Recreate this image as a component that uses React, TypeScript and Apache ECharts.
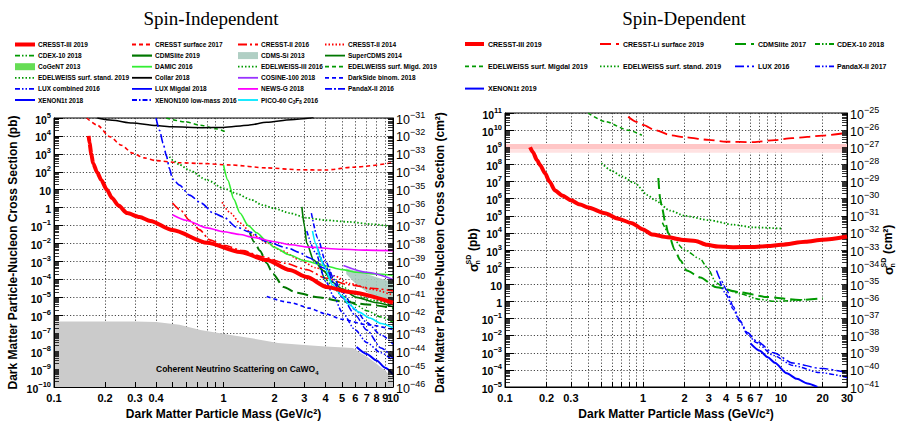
import React, { useEffect, useRef } from "react";
import * as echarts from "echarts";

const FONT = "'Liberation Sans', Arial, Helvetica, sans-serif";
const SERIF = "'Liberation Serif', 'Times New Roman', serif";

// ---------- axis ranges & tick labels ----------
const siMassRange = [0.1, 10];
const sdMassRange = [0.1, 30];
const siPbRange = [1e-10, 1e5];
const sdPbRange = [1e-5, 1e11];
const siMassLabels = [0.1, 0.2, 0.3, 0.4, 1, 2, 3, 4, 5, 6, 7, 8, 9, 10];
const sdMassLabels = [0.1, 0.2, 0.3, 1, 2, 3, 4, 5, 6, 7, 10, 20, 30];
const siPbExp = [-10, -9, -8, -7, -6, -5, -4, -3, -2, -1, 0, 1, 2, 3, 4, 5];
const siCm2Exp = [-46, -45, -44, -43, -42, -41, -40, -39, -38, -37, -36, -35, -34, -33, -32, -31];
const sdPbExp = [-5, -4, -3, -2, -1, 0, 1, 2, 3, 4, 5, 6, 7, 8, 9, 10, 11];
const sdCm2Exp = [-41, -40, -39, -38, -37, -36, -35, -34, -33, -32, -31, -30, -29, -28, -27, -26, -25];
const MULT = [1, 2, 3, 4, 5, 6, 7, 8, 9];

// ---------- Spin-independent limits: [mass GeV/c^2, cross section pb] ----------
const siCresst3 = [[0.16, 1e4], [0.162, 4e3], [0.166, 1e3], [0.17, 300], [0.18, 90], [0.19, 35], [0.205, 10], [0.22, 3.5], [0.24, 1.3], [0.27, 0.5], [0.32, 0.3], [0.37, 0.18], [0.5, 0.056], [0.8, 0.011], [1.25, 0.0034], [1.8, 0.0012], [2.46, 3.3e-4], [3.1, 1.35e-4], [4.06, 3.8e-5], [5.5, 2e-5], [10, 5e-6]];
const siCresstSurf = [[0.156, 1e5], [0.18, 4e4], [0.214, 9e3], [0.25, 3e3], [0.29, 1.1e3], [0.34, 600], [0.4, 420], [0.55, 320], [0.75, 290], [1.1, 240], [1.8, 165], [2.8, 130], [4, 125], [5.8, 180], [10, 320]];
const siCresst2_16 = [[0.5, 1.8], [0.56, 0.7], [0.63, 0.2], [0.72, 0.06], [0.83, 0.016], [1.0, 0.008], [1.3, 0.004], [1.71, 0.0018], [2.3, 8e-4], [3.1, 3.5e-4], [4, 1.2e-4], [5.5, 5e-5], [7.5, 3.2e-5], [10, 2.3e-5]];
const siCresst2_14 = [[0.98, 2], [1.1, 0.5], [1.25, 0.14], [1.5, 0.03], [1.8, 0.011], [2.2, 0.004], [2.8, 0.0013], [3.5, 4.5e-4], [4.5, 1.6e-4], [5.5, 6e-5], [7.5, 2.8e-5], [10, 1.3e-5]];
const siCdex = [[3.6, 1e-3], [4, 1e-4], [4.5, 3e-5], [5, 1.2e-5], [6, 4e-6], [7, 1.8e-6], [8.5, 8e-7], [10, 4e-7]];
const siCdmslite = [[1.43, 0.04], [1.52, 0.012], [1.64, 0.004], [1.8, 8e-4], [1.96, 2e-4], [2.26, 3.8e-5], [2.7, 1.8e-5], [3.6, 1e-5], [5, 6e-6], [7, 4e-6], [10, 2.5e-6]];
const siSuperCdms = [[2.9, 1.1], [3.0, 0.1], [3.1, 0.01], [3.4, 0.0012], [3.9, 3e-4], [4.4, 7e-5], [5, 3e-5], [6.1, 1e-5], [8, 5e-6], [10, 3e-6]];
const siDamic = [[1.0, 240], [1.06, 35], [1.15, 3], [1.25, 0.5], [1.4, 0.1], [1.57, 0.04], [1.8, 0.013], [2.0, 0.006], [2.46, 0.0023], [3, 0.0011], [3.9, 6e-4], [5, 3.5e-4], [6.1, 2.5e-4], [8, 2e-4], [10, 1.7e-4]];
const siEdelweiss3 = [[3.6, 3e-3], [4, 5e-4], [4.5, 1e-4], [5, 4e-5], [6, 1.5e-5], [7.5, 7e-6], [10, 4e-6]];
const siEdwMigdal = [[0.46, 1e5], [0.6, 6e4], [0.73, 4e4], [0.9, 2.5e4], [1.05, 1.6e4]];
const siEdwStand = [[0.48, 700], [0.5, 460], [0.55, 250], [0.63, 120], [0.8, 35], [1.0, 12], [1.2, 6], [1.45, 2.8], [1.7, 1.4], [2.0, 0.9], [2.46, 0.5], [3.1, 0.27], [4, 0.2], [5.5, 0.16], [7.5, 0.12], [10, 0.085]];
const siCollar = [[0.18, 1e5], [0.22, 7.5e4], [0.29, 5.2e4], [0.4, 3.8e4], [0.5, 3.2e4], [0.75, 2.9e4], [1, 3e4], [1.4, 4e4], [1.8, 5.8e4], [2.5, 8e4], [3.4, 1.05e5]];
const siCosine = [[5.1, 6e-4], [7, 2.5e-4], [10, 1e-4]];
const siDarkSide = [[1.8, 1.1e-5], [2.5, 5e-6], [3.2, 2.5e-6], [4, 1.2e-6], [5, 6e-7], [7, 3e-7], [10, 1.6e-7]];
const siLuxComb = [[3.1, 0.05], [3.5, 3e-3], [4, 8e-5], [4.5, 1e-5], [5, 1.5e-6], [6, 1.5e-7], [7, 3e-8], [8.5, 8e-9], [10, 3e-9]];
const siLuxMigdal = [[0.4, 1e5], [0.42, 2e4], [0.44, 4e3], [0.46, 800], [0.48, 150], [0.5, 40], [0.55, 18], [0.63, 5], [0.74, 1.8], [0.87, 0.5], [1.0, 0.3], [1.2, 0.08], [1.43, 0.044], [1.8, 0.0126], [2.4, 0.0056], [2.8, 0.0032], [3.2, 0.0016], [3.9, 4.3e-4], [4.5, 1.5e-4]];
const siNewsG = [[0.5, 0.4], [0.6, 0.2], [0.8, 0.075], [1.0, 0.045], [1.25, 0.032], [1.5, 0.022], [2, 0.0126], [2.5, 0.0085], [3.2, 0.0063], [5, 0.0048], [7, 0.0043], [10, 0.004]];
const siPandax = [[3.6, 5e-3], [4, 5e-4], [4.5, 6e-5], [5, 1e-5], [6, 1e-6], [7, 1.5e-7], [8.5, 1.5e-8], [10, 4e-9]];
const siXenon1t = [[6.1, 1.7e-8], [7, 7e-9], [8, 3e-9], [9, 1.2e-9], [10, 5e-10]];
const siXenon100 = [[3.3, 0.5], [3.6, 0.02], [4, 1e-3], [4.5, 1e-4], [5, 2e-5], [6, 2e-6], [7, 4e-7], [8.5, 8e-8], [10, 2.5e-8]];
const siPico = [[3.35, 0.05], [3.5, 0.01], [3.7, 0.002], [3.9, 6e-4], [4.4, 5e-5], [5, 1.2e-5], [5.5, 4e-6], [6.3, 1.5e-6], [7.3, 7e-7], [8.5, 3.5e-7], [10, 2e-7]];
const siCdmsSiRegion = [[5.3, 4e-4], [6.5, 2.5e-4], [8, 1.3e-4], [10, 7e-5], [10, 4e-6], [8.5, 8e-6], [7, 2e-5], [6, 6e-5], [5.3, 2e-4]];
const siNeutrinoTop = [[0.1, 4.5e-7], [0.2, 4.5e-7], [0.3, 4.5e-7], [0.4, 4.2e-7], [0.55, 3e-7], [0.73, 1.5e-7], [1.1, 8e-8], [1.5, 5e-8], [2.1, 2.8e-8], [3, 2.2e-8], [4, 1.8e-8], [5.8, 1.5e-8], [6.4, 8e-9], [7, 5e-9], [8, 2e-9], [9, 8e-10], [10, 3e-10]];

// ---------- Spin-dependent limits: [mass GeV/c^2, cross section pb] ----------
const sdCresst3 = [[0.152, 1e9], [0.16, 5e8], [0.17, 1.8e8], [0.18, 9e7], [0.195, 3e7], [0.21, 1e7], [0.23, 3e6], [0.26, 1.5e6], [0.3, 8e5], [0.35, 4.5e5], [0.4, 3e5], [0.53, 1.4e5], [0.65, 7e4], [0.83, 3.7e4], [1.0, 1.6e4], [1.16, 8e3], [1.5, 5.5e3], [2, 3.8e3], [2.4, 3.4e3], [2.9, 2e3], [3.5, 1.6e3], [4.5, 1.45e3], [6.3, 1.5e3], [8, 1.7e3], [10, 2e3], [15, 3e3], [20, 4e3], [30, 6.2e3]];
const sdCresstLi = [[0.78, 6e10], [0.9, 3e10], [1.0, 2e10], [1.22, 1e10], [1.6, 5e9], [2, 3.8e9], [3, 2.7e9], [4, 2.1e9], [6.3, 2e9], [9, 2.6e9], [12, 3.4e9], [20, 4.8e9], [30, 7e9]];
const sdCdmslite = [[1.29, 1.6e7], [1.33, 1e6], [1.37, 3e5], [1.45, 4e4], [1.52, 1e4], [1.7, 1e3], [1.86, 250], [2.07, 63], [2.6, 25], [3.4, 6.6], [5, 3.4], [7.9, 1.8], [13.6, 1.2], [20, 1.5]];
const sdCdex = [[1.38, 4e4], [1.6, 6e3], [2, 1e3], [2.6, 300], [2.9, 100], [3.4, 12], [4, 5], [5, 2.8], [7, 1.3], [9, 1], [12, 1.1], [15, 1.3]];
const sdEdwMigdal = [[0.4, 1e11], [0.53, 3.2e10], [0.78, 1e10], [0.98, 5e9]];
const sdEdwStand = [[0.5, 1.2e8], [0.6, 4e7], [0.7, 2e7], [0.87, 8e6], [1.08, 1.6e6], [1.22, 8e5], [1.57, 2e5], [2, 1e5], [3, 5.5e4], [4.5, 3e4], [6.3, 2.1e4], [10, 1.8e4]];
const sdLux = [[3.4, 63], [3.7, 15], [4.04, 4.5], [4.5, 0.5], [5, 0.08], [5.7, 0.015], [6.6, 0.005], [8.8, 1e-3], [12.2, 2.5e-4], [19, 1.25e-4], [30, 7e-5]];
const sdPandax = [[3.6, 15], [4.0, 2.5], [4.5, 0.35], [5, 0.07], [5.7, 0.012], [6.6, 0.004], [8.8, 7e-4], [12.2, 1.8e-4], [19, 7e-5], [30, 3.6e-5]];
const sdXenon1t = [[6, 3.5e-3], [7, 1.3e-3], [8, 5.5e-4], [9, 2.6e-4], [11, 6.3e-5], [13, 3e-5], [15.5, 1.6e-5], [18.3, 1e-5]];
const sdPinkBand = [8e8, 1.55e9];
const sdPinkHatch = [4.8e8, 8e8];

// ---------- styles ----------
const RED = "#ff0000", GREEN = "#009900", DKGREEN = "#007700", LIME = "#33ee33", BLUE = "#0000ff";
const DASH = [4, 3], DOT = [1.5, 2], LONG = [11, 5], DASHDOT = [5, 2, 1.5, 2], DDD = [5, 2, 1.5, 2, 1.5, 2], LDD = [9, 3, 2, 3];
const S: any = {
  cresst3: { c: RED, w: 4, d: "solid" },
  cresstSurf: { c: RED, w: 1.6, d: DASH },
  cresst216: { c: RED, w: 1.6, d: LDD },
  cresst214: { c: RED, w: 1.6, d: DOT },
  cdex: { c: GREEN, w: 1.5, d: DDD },
  cdmslite: { c: DKGREEN, w: 2, d: LONG },
  supercdms: { c: DKGREEN, w: 1.6, d: "solid" },
  damic: { c: LIME, w: 1.6, d: "solid" },
  ew3: { c: GREEN, w: 1.5, d: DOT },
  ewMig: { c: GREEN, w: 1.5, d: DASH },
  ewStd: { c: GREEN, w: 1.8, d: DOT },
  collar: { c: "#000000", w: 1.5, d: "solid" },
  cosine: { c: "#9933ff", w: 1.6, d: "solid" },
  darkside: { c: BLUE, w: 1.6, d: DASH },
  luxComb: { c: BLUE, w: 1.5, d: DDD },
  luxMig: { c: BLUE, w: 1.6, d: LDD },
  newsg: { c: "#ff00ff", w: 1.6, d: "solid" },
  pandax: { c: BLUE, w: 1.5, d: [7, 2, 2, 2] },
  xenon1t: { c: BLUE, w: 2, d: "solid" },
  xenon100: { c: BLUE, w: 1.5, d: DASHDOT },
  pico: { c: "#00e8ff", w: 1.6, d: "solid" },
  sdLi: { c: RED, w: 1.8, d: LONG },
  sdCdmslite: { c: GREEN, w: 2, d: LONG },
  sdLux: { c: BLUE, w: 1.5, d: LDD },
  sdPandax: { c: BLUE, w: 1.5, d: DDD },
};

const siSeries: any[] = [
  ["CRESST surface 2017", siCresstSurf, S.cresstSurf],
  ["CRESST-II 2016", siCresst2_16, S.cresst216],
  ["CRESST-II 2014", siCresst2_14, S.cresst214],
  ["CDEX-10 2018", siCdex, S.cdex],
  ["CDMSlite 2019", siCdmslite, S.cdmslite],
  ["SuperCDMS 2014", siSuperCdms, S.supercdms],
  ["DAMIC 2016", siDamic, S.damic],
  ["EDELWEISS-III 2016", siEdelweiss3, S.ew3],
  ["EDELWEISS surf. Migd. 2019", siEdwMigdal, S.ewMig],
  ["EDELWEISS surf. stand. 2019", siEdwStand, S.ewStd],
  ["Collar 2018", siCollar, S.collar],
  ["COSINE-100 2018", siCosine, S.cosine],
  ["DarkSide binom. 2018", siDarkSide, S.darkside],
  ["LUX combined 2016", siLuxComb, S.luxComb],
  ["LUX Migdal 2018", siLuxMigdal, S.luxMig],
  ["NEWS-G 2018", siNewsG, S.newsg],
  ["PandaX-II 2016", siPandax, S.pandax],
  ["XENON1t 2018", siXenon1t, S.xenon1t],
  ["XENON100 low-mass 2016", siXenon100, S.xenon100],
  ["PICO-60 C3F8 2016", siPico, S.pico],
  ["CRESST-III 2019", siCresst3, S.cresst3],
];
const sdSeries: any[] = [
  ["CRESST-Li surface 2019", sdCresstLi, S.sdLi],
  ["CDMSlite 2017", sdCdmslite, S.sdCdmslite],
  ["CDEX-10 2018", sdCdex, S.cdex],
  ["EDELWEISS surf. Migdal 2019", sdEdwMigdal, S.ewMig],
  ["EDELWEISS surf. stand. 2019", sdEdwStand, S.ewStd],
  ["LUX 2016", sdLux, S.sdLux],
  ["PandaX-II 2017", sdPandax, S.sdPandax],
  ["XENON1t 2019", sdXenon1t, S.xenon1t],
  ["CRESST-III 2019", sdCresst3, S.cresst3],
];

const siLegend: any[] = [
  ["CRESST-III 2019", S.cresst3], ["CRESST surface 2017", S.cresstSurf], ["CRESST-II 2016", S.cresst216], ["CRESST-II 2014", S.cresst214],
  ["CDEX-10 2018", S.cdex], ["CDMSlite 2019", { c: DKGREEN, w: 2.2, d: "solid" }], ["CDMS-Si 2013", { box: "#b0cfc4" }], ["SuperCDMS 2014", S.supercdms],
  ["CoGeNT 2013", { box: "#66dd55" }], ["DAMIC 2016", S.damic], ["EDELWEISS-III 2016", S.ew3], ["EDELWEISS surf. Migd. 2019", S.ewMig],
  ["EDELWEISS surf. stand. 2019", S.ewStd], ["Collar 2018", S.collar], ["COSINE-100 2018", S.cosine], ["DarkSide binom. 2018", S.darkside],
  ["LUX combined 2016", S.luxComb], ["LUX Migdal 2018", { c: BLUE, w: 1.6, d: "solid" }], ["NEWS-G 2018", S.newsg], ["PandaX-II 2016", S.pandax],
  ["XENON1t 2018", S.xenon1t], ["XENON100 low-mass 2016", S.xenon100], ["PICO-60 C{sub|3}F{sub|8} 2016", S.pico],
];
const sdLegend: any[] = [
  ["CRESST-III 2019", S.cresst3], ["CRESST-Li surface 2019", S.sdLi], ["CDMSlite 2017", S.sdCdmslite], ["CDEX-10 2018", S.cdex],
  ["EDELWEISS surf. Migdal 2019", S.ewMig], ["EDELWEISS surf. stand. 2019", S.ewStd], ["LUX 2016", S.sdLux], ["PandaX-II 2017", S.sdPandax],
  ["XENON1t 2019", S.xenon1t],
];

// ---------- helpers ----------
const logPos = (m: number) => {
  const e = Math.floor(Math.log10(m) + 1e-9);
  const j = Math.round(m / Math.pow(10, e));
  return e + Math.log10(j);
};
const massTickPos = (maxMass: number) => {
  const out: number[] = [];
  for (let e = -1; e <= 1; e++) for (const j of MULT) { if (j * Math.pow(10, e) <= maxMass * 1.0001) out.push(e + Math.log10(j)); }
  return out;
};
const combPos = (exps: number[]) => {
  const out: number[] = [];
  for (let i = 0; i < exps.length; i++) {
    if (i === exps.length - 1) { out.push(exps[i]); break; }
    for (const j of MULT) out.push(exps[i] + Math.log10(j));
  }
  return out;
};
const fmtMass = (v: number) => {
  const e = Math.floor(v + 1e-9);
  const j = Math.round(Math.pow(10, v - e));
  return String(Number((j * Math.pow(10, e)).toPrecision(3)));
};
const expStr = (e: number) => (e < 0 ? "\u2212" + -e : String(e));
const fmtPbLeft = (v: number) => {
  const e = Math.round(v);
  if (e === 0) return "{b|1}";
  if (e === 1) return "{b|10}";
  return "{b|10}{sup|" + expStr(e) + "}";
};
const fmtPow = (v: number) => "{b|10}{sup|" + expStr(Math.round(v)) + "}";

const richLeft = {
  b: { fontSize: 10.5, fontWeight: "bold", fontFamily: FONT, color: "#000", lineHeight: 14, verticalAlign: "bottom" },
  sup: { fontSize: 7.5, fontWeight: "bold", fontFamily: FONT, color: "#000", lineHeight: 9, verticalAlign: "top" },
};
const richRight = {
  b: { fontSize: 12.5, fontFamily: FONT, color: "#000", lineHeight: 16, verticalAlign: "bottom" },
  sup: { fontSize: 9, fontFamily: FONT, color: "#000", lineHeight: 10, verticalAlign: "top" },
};
const nameStyle = { fontSize: 12, fontWeight: "bold", fontFamily: FONT, color: "#000" };
const gridLine = { color: "#333", width: 0.9, type: [1.2, 2] };
const massLabelStyle = { color: "#000", fontSize: 11, fontWeight: "bold", fontFamily: FONT, margin: 5, hideOverlap: false, showMinLabel: true, showMaxLabel: true };

function lineSeries(list: any[], xi: number, yi: number) {
  return list.map(([name, data, st]: any) => ({
    name, type: "line", xAxisIndex: xi, yAxisIndex: yi, data,
    showSymbol: false, symbol: "none", smooth: 0.25, smoothMonotone: "x", clip: true,
    z: st === S.cresst3 ? 6 : 3,
    lineStyle: { color: st.c, width: st.w, type: st.d },
  }));
}

function mainX(grid: number, range: number[], ticks: number[], labels: number[]) {
  return {
    type: "value", gridIndex: grid, position: "bottom", min: range[0], max: range[1], z: 5,
    axisLine: { show: true, onZero: false, lineStyle: { color: "#000", width: 1 } },
    axisTick: { show: true, inside: true, length: 5, customValues: ticks, lineStyle: { color: "#000" } },
    axisLabel: { show: true, customValues: labels, formatter: fmtMass, ...massLabelStyle },
    splitLine: { show: false }, minorTick: { show: false },
    name: "Dark Matter Particle Mass (GeV/c²)", nameLocation: "middle", nameGap: 20, nameTextStyle: nameStyle,
  };
}
// extra label-only axis for the last mass label, so that it is not hidden by overlap with its neighbour
function lastLabelX(grid: number, range: number[], labels: number[]) {
  return {
    type: "value", gridIndex: grid, position: "bottom", min: range[0], max: range[1], z: 5,
    axisLine: { show: false, onZero: false }, axisTick: { show: false },
    axisLabel: { show: true, customValues: labels, formatter: fmtMass, ...massLabelStyle },
    splitLine: { show: false },
  };
}
function splitX(grid: number, range: number[], ticks: number[]) {
  return {
    type: "value", gridIndex: grid, position: "bottom", min: range[0], max: range[1], z: 0,
    axisLine: { show: false, onZero: false }, axisTick: { show: false, customValues: ticks }, axisLabel: { show: false },
    splitLine: { show: true, customValues: ticks, lineStyle: gridLine },
  };
}
function labelY(grid: number, pos: string, exps: number[], fmt: any, rich: any, name: any, nameGap: number) {
  const ticks = combPos(exps);
  return {
    type: "value", gridIndex: grid, position: pos, min: exps[0], max: exps[exps.length - 1], z: 5,
    axisLine: { show: true, onZero: false, lineStyle: { color: "#000", width: 1 } },
    axisTick: { show: true, inside: true, length: 5, customValues: ticks, lineStyle: { color: "#000", width: 0.8 } },
    axisLabel: { show: true, customValues: exps, formatter: fmt, rich, margin: 3, hideOverlap: false, showMinLabel: true, showMaxLabel: true },
    splitLine: { show: false }, minorTick: { show: false },
    name: name || "", nameLocation: "middle", nameGap, nameRotate: 90, nameTextStyle: nameStyle,
  };
}
function splitY(grid: number, exps: number[]) {
  return {
    type: "value", gridIndex: grid, position: "left", min: exps[0], max: exps[exps.length - 1], z: 0,
    axisLine: { show: false, onZero: false },
    axisTick: { show: true, inside: true, length: 9, customValues: exps, lineStyle: { color: "#000" } },
    axisLabel: { show: false },
    splitLine: { show: true, customValues: exps, lineStyle: gridLine },
  };
}

function legendGraphics(items: any[], cols: number[][], y0: number, dy: number, fs: number, len: number) {
  const out: any[] = [];
  items.forEach(([name, st]: any, i: number) => {
    const [sx, tx] = cols[i % 4];
    const y = y0 + Math.floor(i / 4) * dy;
    if (st.box) {
      out.push({ type: "rect", shape: { x: sx, y: y - 3.5, width: len, height: 7 }, style: { fill: st.box } });
    } else {
      out.push({
        type: "line", shape: { x1: sx, y1: y, x2: sx + len, y2: y },
        style: { stroke: st.c, lineWidth: st.w === 4 ? 4 : Math.max(1.8, st.w), lineDash: Array.isArray(st.d) ? st.d : null },
      });
    }
    out.push({
      type: "text", x: tx, y,
      style: {
        text: name, fontSize: fs, fontWeight: "bold", fontFamily: FONT, fill: "#000", verticalAlign: "middle", align: "left",
        rich: { sub: { fontSize: fs * 0.7, fontWeight: "bold", fontFamily: FONT, verticalAlign: "bottom", lineHeight: fs * 1.4 } },
      },
    });
  });
  return out;
}

function sigmaLabel(x: number, y: number, unit: string) {
  const t = (text: string, lx: number, ly: number, fs: number, bold = true) => ({
    type: "text", x: lx, y: ly,
    style: { text, fontSize: fs, fontWeight: bold ? "bold" : "normal", fontFamily: FONT, fill: "#000", verticalAlign: "middle", align: "left" },
  });
  const shift = unit === "(pb)" ? 0 : -3;
  return {
    type: "group", x, y, rotation: Math.PI / 2,
    children: [
      t("σ", -22 + shift, 0, 13),
      t("SD", -14.5 + shift, -4.5, 7),
      t("n", -14.5 + shift, 4, 7),
      t(unit, -1 + shift, 0, 12),
    ],
  };
}

function buildOption() {
  const siX = [-1, 1];
  const sdX = [-1, 1 + Math.log10(3)];
  const siTicks = massTickPos(10);
  const sdTicks = massTickPos(30);
  const siLab = siMassLabels.map(logPos);
  const sdLab = sdMassLabels.map(logPos);

  const series: any[] = [
    {
      type: "custom", xAxisIndex: 0, yAxisIndex: 0, data: [[1, 1e-9]], z: 1, silent: true,
      renderItem: (_p: any, api: any) => ({
        type: "polygon",
        shape: { points: [...siNeutrinoTop, [siMassRange[1], siPbRange[0]], [siMassRange[0], siPbRange[0]]].map((p) => api.coord(p)) },
        style: { fill: "#cbcbcb", stroke: "none" },
      }),
    },
    {
      type: "custom", xAxisIndex: 0, yAxisIndex: 0, data: [[7, 1e-4]], z: 2, silent: true,
      renderItem: (_p: any, api: any) => ({
        type: "polygon",
        shape: { points: siCdmsSiRegion.map((p) => api.coord(p)) },
        style: { fill: "#a9cbbe", opacity: 0.9 },
      }),
    },
    ...lineSeries(siSeries, 0, 0),
    ...lineSeries(sdSeries, 1, 1),
  ];
  // pink band in spin-dependent panel
  const li = series.find((s) => s.name === "CRESST-Li surface 2019");
  li.markArea = {
    silent: true, label: { show: false },
    data: [
      [{ yAxis: sdPinkBand[0], itemStyle: { color: "#ffc6c6" } }, { yAxis: sdPinkBand[1] }],
      [{ yAxis: sdPinkHatch[0], itemStyle: { color: "#ffe2e2" } }, { yAxis: sdPinkHatch[1] }],
    ],
  };

  const graphic: any[] = [
    { type: "text", x: 211, y: 18, style: { text: "Spin-Independent", fontFamily: SERIF, fontSize: 19, fill: "#000", align: "center", verticalAlign: "middle" } },
    { type: "text", x: 684, y: 18, style: { text: "Spin-Dependent", fontFamily: SERIF, fontSize: 19, fill: "#000", align: "center", verticalAlign: "middle" } },
    {
      type: "text", x: 156, y: 369, z: 10,
      style: {
        text: "Coherent Neutrino Scattering on CaWO{sub|4}", fontSize: 8.5, fontWeight: "bold", fontFamily: FONT, fill: "#000", verticalAlign: "middle",
        rich: { sub: { fontSize: 6, fontWeight: "bold", fontFamily: FONT, verticalAlign: "bottom", lineHeight: 13 } },
      },
    },
    ...legendGraphics(siLegend, [[15, 38], [132, 155], [238, 261], [325, 348]], 44.5, 11.1, 6.5, 20),
    ...legendGraphics(sdLegend, [[465, 488], [600, 623], [735, 758], [815, 837]], 44, 22.3, 7, 19),
    sigmaLabel(473, 250, "(pb)"),
    sigmaLabel(888, 250, "(cm²)"),
  ];

  return {
    animation: false,
    backgroundColor: "#ffffff",
    textStyle: { fontFamily: FONT },
    grid: [
      { left: 54, top: 118, width: 339, height: 269, show: true, borderColor: "#000", borderWidth: 1, backgroundColor: "transparent", containLabel: false, outerBoundsMode: "none" },
      { left: 505, top: 113, width: 342, height: 274, show: true, borderColor: "#000", borderWidth: 1, backgroundColor: "transparent", containLabel: false, outerBoundsMode: "none" },
    ],
    xAxis: [
      { type: "log", gridIndex: 0, min: siMassRange[0], max: siMassRange[1], show: false },
      { type: "log", gridIndex: 1, min: sdMassRange[0], max: sdMassRange[1], show: false },
      mainX(0, siX, siTicks, siLab.slice(0, -1)),
      splitX(0, siX, siTicks),
      mainX(1, sdX, sdTicks, sdLab.slice(0, -1)),
      splitX(1, sdX, sdTicks),
      lastLabelX(0, siX, siLab.slice(-1)),
      lastLabelX(1, sdX, sdLab.slice(-1)),
    ],
    yAxis: [
      { type: "log", gridIndex: 0, min: siPbRange[0], max: siPbRange[1], show: false },
      { type: "log", gridIndex: 1, min: sdPbRange[0], max: sdPbRange[1], show: false },
      labelY(0, "left", siPbExp, fmtPbLeft, richLeft, "Dark Matter Particle-Nucleon Cross Section (pb)", 35),
      labelY(0, "right", siCm2Exp, fmtPow, richRight, "Dark Matter Particle-Nucleon Cross Section (cm²)", 41),
      splitY(0, siPbExp),
      labelY(1, "left", sdPbExp, fmtPbLeft, richLeft, "", 30),
      labelY(1, "right", sdCm2Exp, fmtPow, richRight, "", 30),
      splitY(1, sdPbExp),
    ],
    series,
    graphic,
  };
}

export default function App() {
  const ref = useRef<HTMLDivElement>(null);
  useEffect(() => {
    document.body.style.margin = "0";
    const chart = echarts.init(ref.current as HTMLDivElement, null, { renderer: "svg" });
    chart.setOption(buildOption() as any);
    return () => chart.dispose();
  }, []);
  return <div ref={ref} style={{ width: 900, height: 427 }} />;
}
